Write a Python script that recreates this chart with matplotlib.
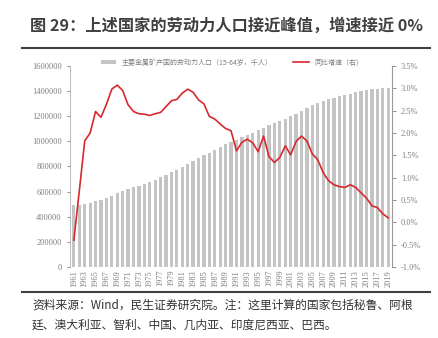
import matplotlib.pyplot as plt
from matplotlib.ticker import FuncFormatter

plt.rcParams['font.family'] = ['Noto Sans CJK SC', 'DejaVu Sans']

years = list(range(1961, 2020))
labour = [490000, 493000, 502000, 512000, 525000, 537000, 551000, 567000, 585000, 602000,
          618000, 633000, 648000, 664000, 680000, 696000, 713000, 732000, 752000, 773000,
          795000, 819000, 843000, 866000, 889000, 911000, 933000, 954000, 975000, 996000,
          1012000, 1031000, 1050000, 1070000, 1088000, 1109000, 1126000, 1142000, 1160000, 1180000,
          1199000, 1221000, 1245000, 1268000, 1288000, 1306000, 1321000, 1334000, 1346000, 1357000,
          1368000, 1380000, 1391000, 1400000, 1408000, 1414000, 1419000, 1422000, 1424000]
growth = [-0.40, 0.70, 1.82, 2.00, 2.48, 2.35, 2.64, 2.98, 3.07, 2.95,
          2.63, 2.48, 2.43, 2.42, 2.39, 2.43, 2.46, 2.59, 2.72, 2.75,
          2.89, 2.98, 2.91, 2.74, 2.65, 2.37, 2.31, 2.20, 2.10, 2.05,
          1.60, 1.79, 1.86, 1.78, 1.58, 1.93, 1.47, 1.34, 1.45, 1.71,
          1.51, 1.81, 1.93, 1.82, 1.53, 1.40, 1.11, 0.93, 0.84, 0.80,
          0.78, 0.84, 0.78, 0.66, 0.54, 0.37, 0.33, 0.19, 0.10]

bar_label = '主要金属矿产国的劳动力人口（15-64岁，千人）'
line_label = '同比增速（右）'
title = '图 29：上述国家的劳动力人口接近峰值，增速接近 0%'
note1 = '资料来源：Wind，民生证券研究院。注：这里计算的国家包括秘鲁、阿根'
note2 = '廷、澳大利亚、智利、中国、几内亚、印度尼西亚、巴西。'

tick_col = '#7f7f7f'
serif = ['Liberation Serif', 'Noto Sans CJK SC']

fig = plt.figure(figsize=(4.38, 3.38), dpi=100)
ax = fig.add_axes([0.16, 0.21, 0.735, 0.595])
ax2 = ax.twinx()

x = list(range(len(years)))
bars = ax.bar(x, labour, width=0.6, color='#c4c4c4', label=bar_label)
line, = ax2.plot(x, growth, color='#d7282f', lw=1.2, label=line_label)

ax.set_ylim(0, 1600000)
ax.set_yticks(range(0, 1600001, 200000))
ax.yaxis.set_major_formatter(FuncFormatter(lambda v, p: '%d' % v))
ax2.set_ylim(-1.0, 3.5)
ax2.set_yticks([-1.0, -0.5, 0.0, 0.5, 1.0, 1.5, 2.0, 2.5, 3.0, 3.5])
ax2.yaxis.set_major_formatter(FuncFormatter(lambda v, p: '%.1f%%' % v))
ax.set_xlim(-0.7, len(years) - 0.3)
ax.set_xticks(x[::2])
ax.set_xticklabels([str(y) for y in years[::2]], rotation=90)

for a in (ax, ax2):
    for s in a.spines.values():
        s.set_visible(False)
    a.tick_params(colors=tick_col, labelsize=6, length=2.5, width=0.6)
    for lab in a.get_yticklabels() + a.get_xticklabels():
        lab.set_family(serif)
ax.spines['left'].set_visible(True)
ax.spines['left'].set_color('#bfbfbf')
ax2.spines['right'].set_visible(True)
ax2.spines['right'].set_color('#999999')
ax.tick_params(axis='x', length=0, pad=2)
ax2.tick_params(axis='y', length=3)

fig.legend([bars, line], [bar_label, line_label], loc='center', bbox_to_anchor=(0.53, 0.815),
           ncol=2, frameon=False, fontsize=5, labelcolor='#7f7f7f', handlelength=2.2,
           handleheight=0.5, columnspacing=3)

fig.text(0.516, 0.925, title, ha='center', va='center', fontsize=11.7, fontweight='bold', color='#404040')
fig.add_artist(plt.Line2D([0.05, 0.982], [0.858, 0.858], color='#404040', lw=1.5))
fig.add_artist(plt.Line2D([0.05, 0.982], [0.136, 0.136], color='#404040', lw=1.5))
fig.text(0.073, 0.097, note1, ha='left', va='center', fontsize=8.5, color='#333333')
fig.text(0.073, 0.037, note2, ha='left', va='center', fontsize=8.5, color='#333333')

fig.savefig('out.png', dpi=100)
